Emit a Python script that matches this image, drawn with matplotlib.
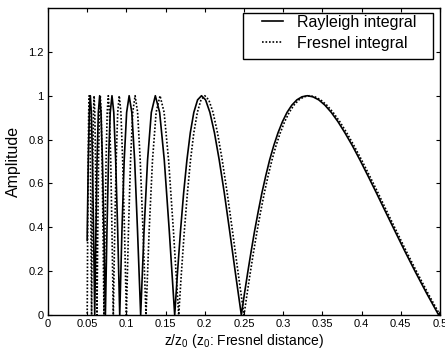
import matplotlib
matplotlib.use("Agg")
import matplotlib.pyplot as plt
from matplotlib.patches import Rectangle

plt.rcParams['font.family'] = ['Liberation Sans', 'DejaVu Sans']
plt.rcParams['mathtext.fontset'] = 'custom'
plt.rcParams['mathtext.rm'] = 'Liberation Sans'
plt.rcParams['mathtext.it'] = 'Liberation Sans:italic'

# ---- data ----
fresnel_z = [
    0.5, 0.4848, 0.4706, 0.4571, 0.4444, 0.4324, 0.4211, 0.4103, 0.4, 0.3902, 0.381, 0.3721, 0.3636, 0.3556, 0.3478, 0.3404,
    0.3333, 0.3265, 0.32, 0.3137, 0.3077, 0.3019, 0.2963, 0.2909, 0.2857, 0.2807, 0.2759, 0.2712, 0.2667, 0.2623, 0.2581, 0.254, 0.25,
    0.2424, 0.2353, 0.2286, 0.2222, 0.2162, 0.2105, 0.2051, 0.2, 0.1951, 0.1905, 0.186, 0.1818, 0.1778, 0.1739, 0.1702, 0.1667,
    0.16, 0.1538, 0.1481, 0.1429, 0.1379, 0.1333, 0.129, 0.125,
    0.1212, 0.1176, 0.1143, 0.1111, 0.1081, 0.1053, 0.1026, 0.1,
    0.0976, 0.0952, 0.093, 0.0909, 0.0889, 0.087, 0.0851, 0.0833,
    0.0816, 0.08, 0.0784, 0.0769, 0.0755, 0.0741, 0.0727, 0.0714,
    0.0702, 0.069, 0.0678, 0.0667, 0.0656, 0.0645, 0.0635, 0.0625,
    0.0615, 0.0606, 0.0597, 0.0588, 0.058, 0.0571, 0.0563, 0.0556,
    0.0548, 0.0541, 0.0533, 0.0526, 0.0519, 0.0513, 0.0506, 0.05,
]
fresnel_amp = [
    0, .098, .195, .290, .383, .471, .556, .634, .707, .773, .831, .882, .924, .957, .981, .995,
    1, .995, .981, .957, .924, .882, .831, .773, .707, .634, .556, .471, .383, .290, .195, .098, 0,
    .195, .383, .556, .707, .831, .924, .981, 1, .981, .924, .831, .707, .556, .383, .195, 0,
    .383, .707, .924, 1, .924, .707, .383, 0,
    .383, .707, .924, 1, .924, .707, .383, 0,
    .383, .707, .924, 1, .924, .707, .383, 0,
    .383, .707, .924, 1, .924, .707, .383, 0,
    .383, .707, .924, 1, .924, .707, .383, 0,
    .383, .707, .924, 1, .924, .707, .383, 0,
    .383, .707, .924, 1, .924, .707, .383, 0,
]
rayleigh_z = [
    0.5,
    0.4983, 0.4831, 0.4688, 0.4553, 0.4425, 0.4305, 0.419, 0.4082, 0.3979, 0.3881, 0.3787, 0.3698, 0.3613, 0.3532, 0.3454, 0.3379,
    0.3308, 0.3239, 0.3174, 0.311, 0.3049, 0.2991, 0.2934, 0.288, 0.2827, 0.2777, 0.2728, 0.2681, 0.2635, 0.2591, 0.2548, 0.2506, 0.2466,
    0.2389, 0.2317, 0.2249, 0.2184, 0.2123, 0.2065, 0.201, 0.1958, 0.1908, 0.186, 0.1815, 0.1772, 0.173, 0.169, 0.1652, 0.1616,
    0.1547, 0.1483, 0.1424, 0.1369, 0.1318, 0.127, 0.1225, 0.1182,
    0.1142, 0.1105, 0.1069, 0.1035, 0.1003, 0.0972, 0.0943, 0.0915,
    0.0889, 0.0863, 0.0839, 0.0816, 0.0794, 0.0772, 0.0752, 0.0732,
    0.0713, 0.0694, 0.0676, 0.0659, 0.0642, 0.0626, 0.0611, 0.0596,
    0.0581, 0.0567, 0.0553, 0.054, 0.0527, 0.0514, 0.0501, 0.05,
]
rayleigh_amp = [
    0.011,
    0, .098, .195, .290, .383, .471, .556, .634, .707, .773, .831, .882, .924, .957, .981, .995,
    1, .995, .981, .957, .924, .882, .831, .773, .707, .634, .556, .471, .383, .290, .195, .098, 0,
    .195, .383, .556, .707, .831, .924, .981, 1, .981, .924, .831, .707, .556, .383, .195, 0,
    .383, .707, .924, 1, .924, .707, .383, 0,
    .383, .707, .924, 1, .924, .707, .383, 0,
    .383, .707, .924, 1, .924, .707, .383, 0,
    .383, .707, .924, 1, .924, .707, .383, 0,
    .383, .707, .924, 1, .924, .707, .383, .34,
]
x_ticks = [0, 0.05, 0.1, 0.15, 0.2, 0.25, 0.3, 0.35, 0.4, 0.45, 0.5]
x_tick_labels = ['0', '0.05', '0.1', '0.15', '0.2', '0.25', '0.3', '0.35', '0.4', '0.45', '0.5']
y_ticks = [0, 0.2, 0.4, 0.6, 0.8, 1.0, 1.2]
y_tick_labels = ['0', '0.2', '0.4', '0.6', '0.8', '1', '1.2']
series_labels = ['Rayleigh integral', 'Fresnel integral']

W, H = 445, 356
fig = plt.figure(figsize=(W / 100, H / 100), dpi=100)
ax_l, ax_r, ax_t, ax_b = 48, 440, 8, 315
ax = fig.add_axes([ax_l / W, (H - ax_b) / H, (ax_r - ax_l) / W, (ax_b - ax_t) / H])

ax.plot(rayleigh_z, rayleigh_amp, color='black', lw=1.2, ls='-', label=series_labels[0])
ax.plot(fresnel_z, fresnel_amp, color='black', lw=1.2, ls=(0, (1, 1.1)), label=series_labels[1])

ax.set_xlim(0, 0.5)
ax.set_ylim(0, 1.4)
ax.set_xticks(x_ticks)
ax.set_xticklabels(x_tick_labels)
ax.set_yticks(y_ticks)
ax.set_yticklabels(y_tick_labels)
ax.tick_params(direction='in', top=True, right=True, length=3, width=0.8, labelsize=8, pad=3)
for s in ax.spines.values():
    s.set_linewidth(1.0)

ax.set_xlabel('z/z$_\\mathregular{0}$ (z$_\\mathregular{0}$: Fresnel distance)', fontsize=10, labelpad=2)
ax.set_ylabel('Amplitude', fontsize=11.5, labelpad=5)

# legend frame (box 243..433 x 13..59 px)
box = Rectangle((243 / W, (H - 59) / H), 190 / W, 46 / H, transform=fig.transFigure,
                facecolor='white', edgecolor='black', lw=1.0, zorder=4, clip_on=False)
ax.add_artist(box)
leg = ax.legend(loc='upper left',
                bbox_to_anchor=((262 - ax_l) / (ax_r - ax_l), (ax_b - 14.5) / (ax_b - ax_t)),
                borderaxespad=0, borderpad=0, fontsize=11.5, frameon=False,
                handlelength=1.33, handletextpad=0.85, labelspacing=0.4)
leg.set_zorder(5)

fig.savefig('out.png', dpi=100)
